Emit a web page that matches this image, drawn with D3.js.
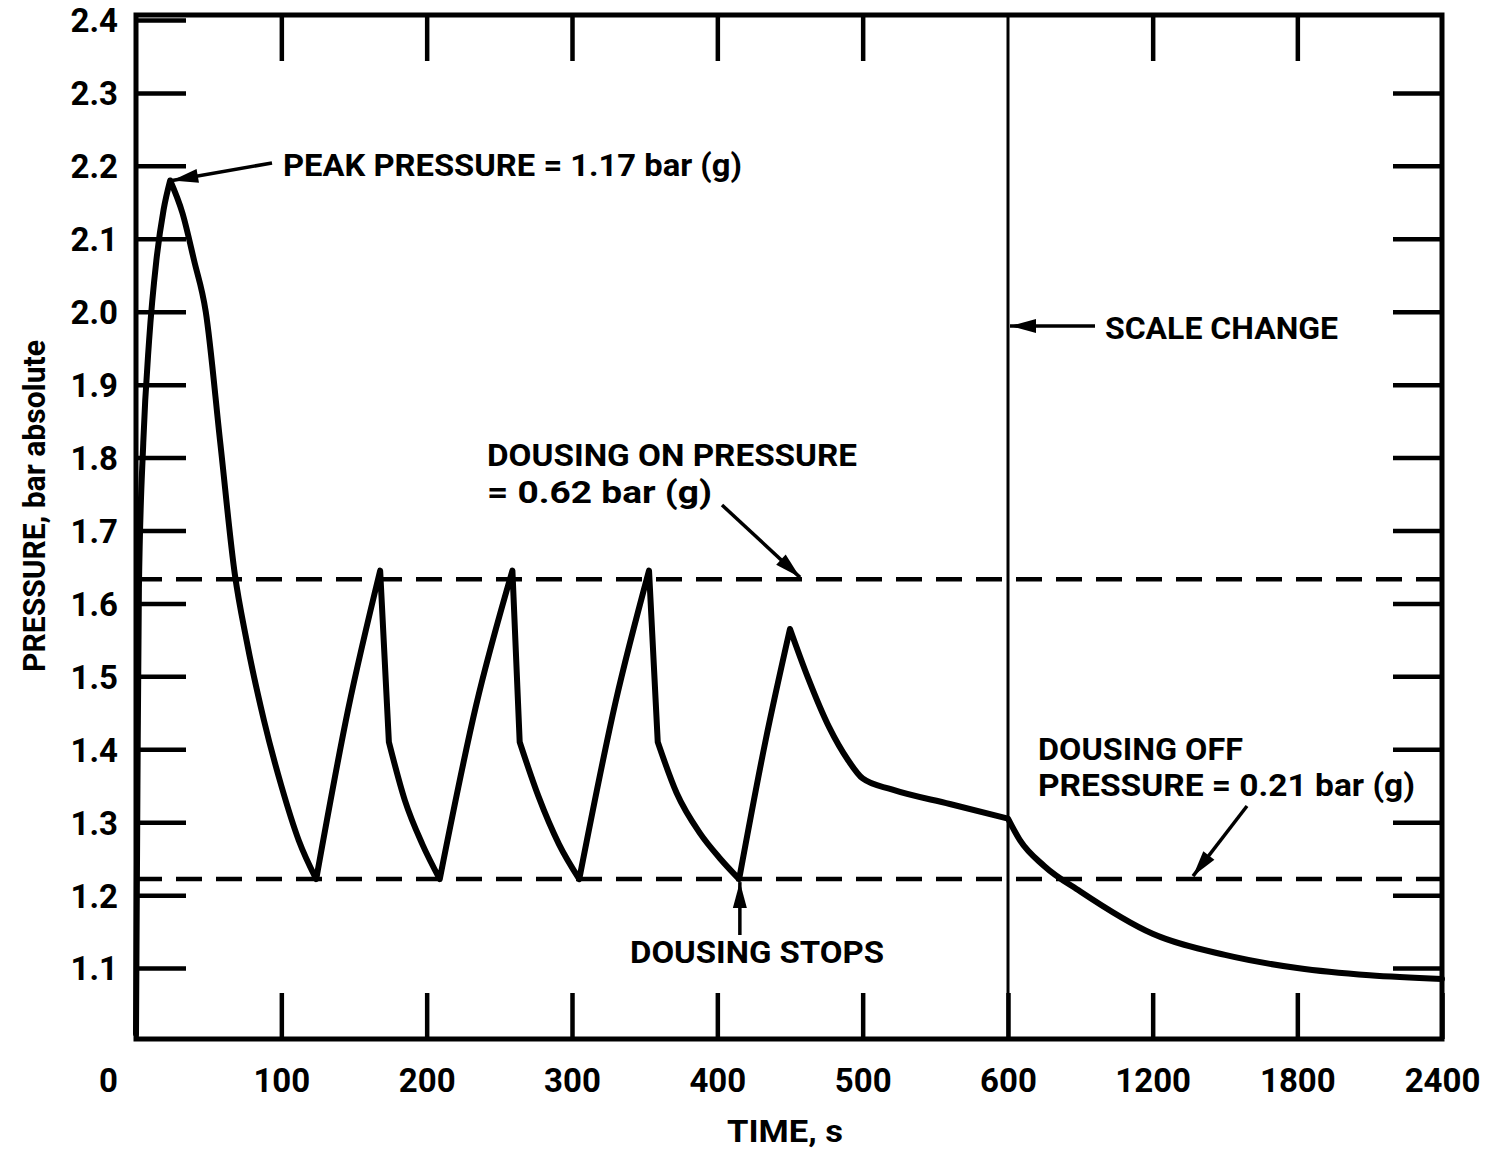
<!DOCTYPE html>
<html><head><meta charset="utf-8">
<script src="https://cdn.jsdelivr.net/npm/d3@7"></script>
<style>
body{margin:0;background:#fff;}
svg{display:block;}
text{font-family:Roboto,"DejaVu Sans",sans-serif;font-weight:700;fill:#000;}
</style></head><body>
<svg id="c" width="1486" height="1154"></svg>
<script>
// ---- data ----
const timeTicks = [0,100,200,300,400,500,600,1200,1800,2400];
const timeBreaks = [0,600,2400];
const pressureTicks = [1.1,1.2,1.3,1.4,1.5,1.6,1.7,1.8,1.9,2.0,2.1,2.2,2.3,2.4];
const curveTime = [0,1,2,5,9,14,19,23.5,32,40,48,58,68,76,88,100,112,124,
  146,168,174,185,197,209,
  234,259,264,277,291,305,
  330,353,359,372,388,402,415,
  433,450,462,477,490,500,520,560,600,
  650,750,900,1200,1500,1800,2100,2400];
const curvePressure = [1.01,1.35,1.62,1.82,1.96,2.07,2.14,2.18,2.135,2.07,2.00,1.82,1.64,1.55,1.44,1.35,1.275,1.222,
  1.455,1.645,1.41,1.33,1.27,1.222,
  1.46,1.645,1.41,1.335,1.27,1.222,
  1.465,1.645,1.41,1.34,1.285,1.25,1.222,
  1.41,1.565,1.50,1.43,1.385,1.36,1.345,1.325,1.305,
  1.275,1.24,1.205,1.147,1.118,1.10,1.09,1.085];
// times where the curve has a sharp corner
const cornerTimes = [0,23.5,124,168,174,209,259,264,305,353,359,415,450,600,2400];
const dousingOn = 1.633;
const dousingOff = 1.222;
const scaleChangeTime = 600;
const peakPoint = {t:23.5, p:2.18};
const dousingStop = {t:415.5, p:1.222};

// ---- layout ----
const pL = 136, pR = 1442, pT = 15, pB = 1039;
const svg = d3.select('#c');

const x = d3.scaleLinear().domain(timeBreaks).range([pL, 1008, pR]);
const y = d3.scaleLinear().domain([1.0, 2.4]).range([1041, 20]);

// axes (ticks inward)
const gL = svg.append('g').attr('transform',`translate(${pL},0)`)
  .call(d3.axisLeft(y).tickValues(pressureTicks).tickSize(-50).tickPadding(18).tickFormat(d3.format('.1f')));
const gR = svg.append('g').attr('transform',`translate(${pR},0)`)
  .call(d3.axisRight(y).tickValues(pressureTicks.filter(d=>d<2.4)).tickSize(-49).tickFormat(''));
const gB = svg.append('g').attr('transform',`translate(0,${pB})`)
  .call(d3.axisBottom(x).tickValues(timeTicks).tickSize(-46).tickPadding(30).tickFormat(d3.format('d')));
const gT = svg.append('g').attr('transform',`translate(0,${pT})`)
  .call(d3.axisTop(x).tickValues(timeTicks.filter(d=>d!==0&&d!==600&&d!==2400)).tickSize(-46).tickFormat(''));
[gL,gR,gB,gT].forEach(g=>{
  g.select('.domain').remove();
  g.selectAll('.tick line').attr('stroke','#000').attr('stroke-width',4.5);
  g.selectAll('.tick text').attr('fill','#000').style('font-size','33px').style('font-family','Roboto, sans-serif').style('font-weight','700');
});
gL.selectAll('.tick text').attr('dy','0.36em');
gB.selectAll('.tick text').attr('dy','0.71em');
gB.selectAll('.tick').filter(d=>d===0).select('text').attr('x',-28);

// frame
svg.append('rect').attr('x',pL).attr('y',pT).attr('width',pR-pL).attr('height',pB-pT)
  .attr('fill','none').attr('stroke','#000').attr('stroke-width',5);

// scale change line
svg.append('line').attr('x1',x(scaleChangeTime)).attr('x2',x(scaleChangeTime)).attr('y1',pT).attr('y2',pB)
  .attr('stroke','#000').attr('stroke-width',3);

// dashed lines
[dousingOn, dousingOff].forEach(v=>{
  svg.append('line').attr('x1',pL).attr('x2',pR).attr('y1',y(v)).attr('y2',y(v))
    .attr('stroke','#000').attr('stroke-width',4.5).attr('stroke-dasharray','26,14');
});

// curve: smooth between corners, sharp at corners
const pts = curveTime.map((t,i)=>[t,curvePressure[i]]);
const lineGen = d3.line().x(d=>x(d[0])).y(d=>y(d[1])).curve(d3.curveMonotoneX);
let dStr = '';
for (let i=0;i<cornerTimes.length-1;i++){
  const a=cornerTimes[i], b=cornerTimes[i+1];
  const seg = pts.filter(p=>p[0]>=a && p[0]<=b);
  let s = lineGen(seg);
  if (i>0) s = 'L' + s.slice(1);
  dStr += s;
}
svg.append('path').attr('d', dStr)
  .attr('fill','none').attr('stroke','#000').attr('stroke-width',6).attr('stroke-linejoin','round').attr('stroke-linecap','round');

// arrows
function arrow(x1,y1,x2,y2){
  svg.append('line').attr('x1',x1).attr('y1',y1).attr('x2',x2).attr('y2',y2)
    .attr('stroke','#000').attr('stroke-width',3.5);
  const a = Math.atan2(y2-y1,x2-x1), L=26, Wd=7;
  const bx = x2-L*Math.cos(a), by = y2-L*Math.sin(a);
  const p = [[x2,y2],[bx+Wd*Math.sin(a),by-Wd*Math.cos(a)],[bx-Wd*Math.sin(a),by+Wd*Math.cos(a)]];
  svg.append('polygon').attr('points',p.map(q=>q.join(',')).join(' ')).attr('fill','#000');
}
arrow(272,163, x(peakPoint.t)+2, y(peakPoint.p));
arrow(722,505, 800, y(dousingOn)-2);
arrow(1095,326, x(scaleChangeTime)+2, 326);
arrow(1247,806, 1193, y(dousingOff)-3);
arrow(x(dousingStop.t),935, x(dousingStop.t), y(dousingStop.p)+3);

// annotation text
function label(txt,x0,yb,len){
  svg.append('text').attr('x',x0).attr('y',yb).text(txt)
    .style('font-size','32px').attr('textLength',len).attr('lengthAdjust','spacingAndGlyphs');
}
label('PEAK PRESSURE = 1.17 bar (g)',283,176,459);
label('DOUSING ON PRESSURE',487,466,370);
label('= 0.62 bar (g)',487,503,225);
label('SCALE CHANGE',1105,339,233);
label('DOUSING OFF',1038,760,205);
label('PRESSURE = 0.21 bar (g)',1038,796,377);
label('DOUSING STOPS',630,963,254);
label('TIME, s',727,1142,116);

svg.append('text').attr('transform','translate(45,506) rotate(-90)').attr('text-anchor','middle')
  .text('PRESSURE, bar absolute').style('font-size','32px').attr('textLength',332).attr('lengthAdjust','spacingAndGlyphs');
</script>
</body></html>
